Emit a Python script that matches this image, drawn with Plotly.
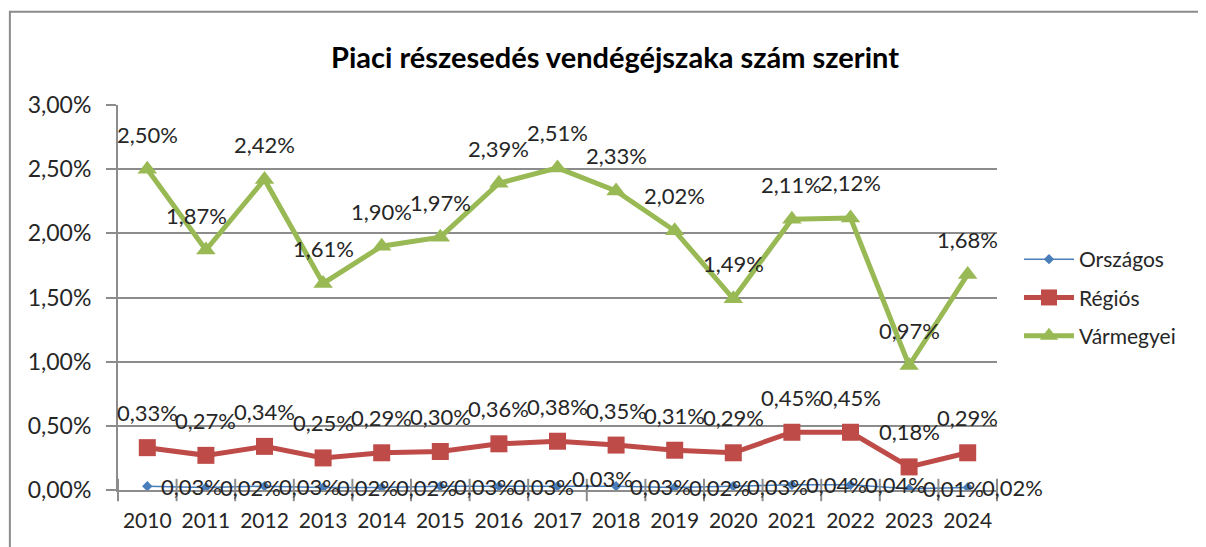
import plotly.graph_objects as go

years = ["2010", "2011", "2012", "2013", "2014", "2015", "2016", "2017",
         "2018", "2019", "2020", "2021", "2022", "2023", "2024"]
orszagos = [0.03, 0.02, 0.03, 0.02, 0.02, 0.03, 0.03, 0.03, 0.03, 0.02, 0.03, 0.04, 0.04, 0.01, 0.02]
regios = [0.33, 0.27, 0.34, 0.25, 0.29, 0.30, 0.36, 0.38, 0.35, 0.31, 0.29, 0.45, 0.45, 0.18, 0.29]
varmegyei = [2.50, 1.87, 2.42, 1.61, 1.90, 1.97, 2.39, 2.51, 2.33, 2.02, 1.49, 2.11, 2.12, 0.97, 1.68]
y_ticks = [0, 0.5, 1.0, 1.5, 2.0, 2.5, 3.0]

FONT = "Lato"
TXT = "#262626"
GRID = "#8c8c8c"

def pct(v):
    return f"{v:.2f}".replace(".", ",") + "%"

idx = list(range(len(years)))

fig = go.Figure()
fig.add_trace(go.Scatter(
    x=idx, y=[v / 100 for v in orszagos], name="Országos", mode="lines+markers",
    legendgroup="o",
    line=dict(color="#4a7ebb", width=1.5),
    marker=dict(symbol="diamond", size=8, color="#4a7ebb")))
fig.add_trace(go.Scatter(
    x=idx, y=[v / 100 for v in regios], name="Régiós", mode="lines+markers",
    legendgroup="r",
    line=dict(color="#be4b48", width=5),
    marker=dict(symbol="square", size=17, color="#be4b48")))
fig.add_trace(go.Scatter(
    x=idx, y=[v / 100 for v in varmegyei], name="Vármegyei", mode="lines+markers",
    legendgroup="v",
    line=dict(color="#98b954", width=5),
    marker=dict(symbol="triangle-up", size=17, color="#98b954")))

LBL = 22
annotations = []
for i, v in enumerate(varmegyei):
    annotations.append(dict(x=i, y=v / 100, text=pct(v), showarrow=False,
                            yshift=35, xshift=-9 if i == 1 else 0,
                            font=dict(family=FONT, size=LBL, color=TXT)))
for i, v in enumerate(regios):
    annotations.append(dict(x=i, y=v / 100, text=pct(v), showarrow=False,
                            yshift=35, font=dict(family=FONT, size=LBL, color=TXT)))
for i, v in enumerate(orszagos):
    annotations.append(dict(x=i, y=v / 100, text=pct(v), showarrow=False,
                            xanchor="left", xshift=12, yshift=8 if i == 7 else 0,
                            font=dict(family=FONT, size=LBL, color=TXT)))

annotations.append(dict(x=0.565, y=1.125, xref="paper", yref="paper",
                        xanchor="center", yanchor="middle",
                        text="<b>Piaci részesedés vendégéjszaka szám szerint</b>",
                        showarrow=False, font=dict(family=FONT, size=29, color="#000000")))

fig.update_layout(
    width=1198, height=539,
    margin=dict(l=110, r=209, t=97, b=57, autoexpand=False),
    paper_bgcolor="white", plot_bgcolor="white",
    separators=", ",
    font=dict(family=FONT, size=20, color=TXT),
    annotations=annotations,
    showlegend=True,
    legend=dict(x=1.025, y=0.5, xanchor="left", yanchor="middle",
                font=dict(family=FONT, size=21, color=TXT),
                bgcolor="rgba(0,0,0,0)", tracegroupgap=8, itemwidth=50),
    shapes=[dict(type="rect", xref="paper", yref="paper",
                 x0=-0.123, x1=1.3, y0=-0.3, y1=1.242,
                 line=dict(color="#8c8c8c", width=2), layer="below")],
)
fig.update_xaxes(
    range=[-0.5, len(years) - 0.5],
    tickvals=idx, ticktext=years, tickangle=0,
    showgrid=False, showline=True, linecolor=GRID, linewidth=2,
    ticks="", zeroline=False, ticklabelstandoff=11,
    tickfont=dict(family=FONT, size=21, color=TXT), fixedrange=True)
# boundary tick marks for the category axis
fig.add_trace(go.Scatter(x=[i - 0.5 for i in range(len(years) + 1)],
                         y=[0] * (len(years) + 1), mode="markers", showlegend=False,
                         hoverinfo="skip", cliponaxis=False,
                         marker=dict(symbol="line-ns", size=16,
                                     line=dict(color=GRID, width=2))))
fig.update_yaxes(
    range=[0, 0.03], tickvals=[t / 100 for t in y_ticks], tickformat=".2%",
    showgrid=True, gridcolor=GRID, gridwidth=2, zeroline=False,
    showline=True, linecolor=GRID, linewidth=2,
    ticks="outside", ticklen=10, tickcolor=GRID, tickwidth=2, ticklabelstandoff=10,
    tickfont=dict(family=FONT, size=23, color=TXT), fixedrange=True)

fig.write_html("out.html")
